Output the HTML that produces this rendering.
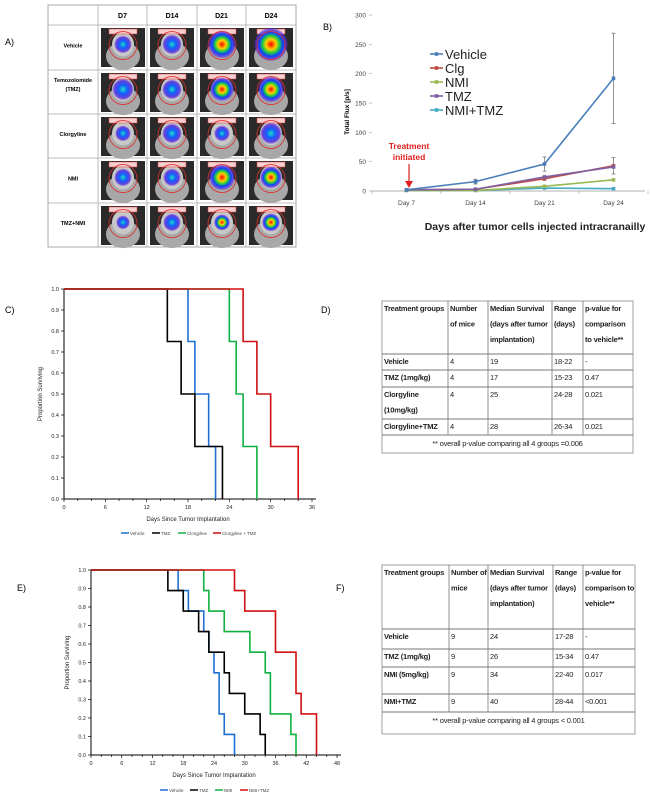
<!DOCTYPE html>
<html><head><meta charset="utf-8">
<style>
html,body{margin:0;padding:0;background:#fff;}
svg{display:block;font-family:"Liberation Sans",sans-serif;}
</style></head>
<body>
<svg id="fig" width="650" height="799" viewBox="0 0 650 799">
<defs>
<radialGradient id="blob" cx="50%" cy="50%" r="50%">
<stop offset="0" stop-color="#ff0000"/><stop offset="0.3" stop-color="#ffd000"/><stop offset="0.5" stop-color="#20d040"/><stop offset="0.7" stop-color="#1040ff"/><stop offset="0.9" stop-color="#6030e0" stop-opacity="0.7"/><stop offset="1" stop-color="#6030e0" stop-opacity="0"/>
</radialGradient>
<radialGradient id="blobB" cx="50%" cy="50%" r="50%">
<stop offset="0" stop-color="#20e0c0"/><stop offset="0.4" stop-color="#1060ff"/><stop offset="0.8" stop-color="#5020e0" stop-opacity="0.8"/><stop offset="1" stop-color="#6030e0" stop-opacity="0"/>
</radialGradient>
</defs>
</svg>
<script>
// ---- Panel B data
const bDays=["Day 7","Day 14","Day 21","Day 24"];
const bTicks=[0,50,100,150,200,250,300];
const bSeriesNames=["Vehicle","Clg","NMI","TMZ","NMI+TMZ"];
const bVehicle=[2,16,46,192];
const bClg=[2,3,21,43];
const bNMI=[1,1,8,19];
const bTMZ=[2,3,24,41];
const bNMITMZ=[1,1,5,4];
const bVehicleErr=[0,4,12,77];
const bClgErr=[0,1,3,14];
// ---- Panel C data
const cVehTimes=[18,19,21,22], cVehSurv=[0.75,0.5,0.25,0];
const cTmzTimes=[15,17,19,23], cTmzSurv=[0.75,0.5,0.25,0];
const cClgTimes=[24,25,26,28], cClgSurv=[0.75,0.5,0.25,0];
const cCtTimes=[26,28,30,34], cCtSurv=[0.75,0.5,0.25,0];
const cXTicks=[0,6,12,18,24,30,36];
const kmYTicks=[0,0.1,0.2,0.3,0.4,0.5,0.6,0.7,0.8,0.9,1.0];
// ---- Panel E data
const eVehTimes=[17,19,22,23,24,25,26,28], eVehSurv=[0.889,0.778,0.667,0.556,0.444,0.222,0.111,0];
const eTmzTimes=[15,18,21,23,26,27,30,33,34], eTmzSurv=[0.889,0.778,0.667,0.556,0.444,0.333,0.222,0.111,0];
const eNmiTimes=[22,23,26,31,34,35,39,40], eNmiSurv=[0.889,0.778,0.667,0.556,0.444,0.222,0.111,0];
const eNtTimes=[28,30,36,40,41,44], eNtSurv=[0.889,0.778,0.556,0.333,0.222,0];
const eXTicks=[0,6,12,18,24,30,36,42,48];

const NS="http://www.w3.org/2000/svg";
const svg=document.getElementById('fig');
function mk(tag,attrs,parent,text){const e=document.createElementNS(NS,tag);for(const k in attrs)e.setAttribute(k,attrs[k]);if(text!==undefined)e.textContent=text;(parent||svg).appendChild(e);return e;}

// ---------- Panel labels
let t;
t=mk('text',{x:5,y:45,'font-size':9},svg,'A)');
t=mk('text',{x:323,y:30,'font-size':9},svg,'B)');
t=mk('text',{x:5,y:313,'font-size':9},svg,'C)');
t=mk('text',{x:321,y:313,'font-size':9},svg,'D)');
t=mk('text',{x:17,y:591,'font-size':9},svg,'E)');
t=mk('text',{x:336,y:591,'font-size':9},svg,'F)');

// ---------- Panel A: imaging table
const gA=mk('g',{});
const colX=[48,98,147,197,246,296];
const rowY=[5,25,70,114,158,203,247];
const aHeads=["D7","D14","D21","D24"];
const aRows=["Vehicle","Temozolomide|(TMZ)","Clorgyline","NMI","TMZ+NMI"];
const blobSize=[[9,10,14,17],[11,10,12,13],[8,10,8,11],[9,9,13,11],[7,9,8,9]];
const blobHot=[[0,0,1,1],[0,0,1,1],[0,0,0,0],[0,0,1,1],[0,0,1,1]];
mk('rect',{x:48,y:5,width:248,height:242,fill:'#fff',stroke:'#999','stroke-width':0.8},gA);
colX.forEach(x=>mk('line',{x1:x,y1:5,x2:x,y2:247,stroke:'#aaa','stroke-width':0.8},gA));
rowY.forEach(y=>mk('line',{x1:48,y1:y,x2:296,y2:y,stroke:'#aaa','stroke-width':0.8},gA));
aHeads.forEach((h,i)=>{const e=mk('text',{x:(colX[i+1]+colX[i+2])/2,y:18,'font-size':7,'font-weight':'bold','text-anchor':'middle'},gA,h);});
aRows.forEach((r,j)=>{const parts=r.split('|');const cy=(rowY[j+1]+rowY[j+2])/2;
 parts.forEach((p,k)=>{const e=mk('text',{x:73,y:cy-8+(parts.length>1?k*9-2:8),'font-size':5.5,'font-weight':'bold','text-anchor':'middle'},gA,p);});
 for(let i=0;i<4;i++){const x0=colX[i+1]+3,y0=rowY[j+1]+3,w=44,h=39;
  const g=mk('g',{},gA);
  mk('rect',{x:x0,y:y0,width:w,height:h,fill:'#2a2a2a'},g);
  mk('ellipse',{cx:x0+w/2,cy:y0+h*0.72,rx:17,ry:14,fill:'#a8a8a8'},g);
  mk('ellipse',{cx:x0+w/2,cy:y0+h*0.42,rx:11,ry:12,fill:'#c8c8c8'},g);
  mk('rect',{x:x0+8,y:y0+1,width:28,height:5,fill:'#f4d0d0',stroke:'#e04040','stroke-width':0.5},g);
  const s=blobSize[j][i];
  mk('circle',{cx:x0+w/2,cy:y0+h*0.42,r:s,fill:blobHot[j][i]?'url(#blob)':'url(#blobB)'},g);
  mk('circle',{cx:x0+w/2,cy:y0+h*0.45,r:14,fill:'none',stroke:'#e03030','stroke-width':0.8},g);
 }});

// ---------- Panel B: line chart
const gB=mk('g',{});
const bx0=372,bx1=645,bBand=69,by0=191,byH=176;
const xB=i=>bx0+bBand*(i+0.5);
const yB=v=>by0-v*byH/300;
mk('line',{x1:bx0,y1:by0,x2:bx1,y2:by0,stroke:'#999','stroke-width':0.8},gB);
bTicks.forEach(v=>{mk('line',{x1:bx0-3,y1:yB(v),x2:bx0,y2:yB(v),stroke:'#999','stroke-width':0.6},gB);
 const e=mk('text',{x:bx0-6,y:yB(v)+2.5,'font-size':6.5,fill:'#444','text-anchor':'end'},gB,v);});
for(let i=0;i<=4;i++)mk('line',{x1:bx0+bBand*i,y1:by0,x2:bx0+bBand*i,y2:by0+3,stroke:'#999','stroke-width':0.6},gB);
bDays.forEach((d,i)=>{const e=mk('text',{x:xB(i),y:205,'font-size':6.5,fill:'#444','text-anchor':'middle'},gB,d);});
t=mk('text',{x:0,y:0,'font-size':6.5,'font-weight':'bold',transform:'translate(349,112) rotate(-90)','text-anchor':'middle'},gB,'Total Flux [p/s]');
t=mk('text',{x:535,y:230,'font-size':10.5,'font-weight':'bold','text-anchor':'middle',fill:'#222'},gB,'Days after tumor cells injected intracranailly');
const bCols=["#4a7ebb","#be4b48","#98b954","#7d60a0","#46aac5"];
const bSer=[bVehicle,bClg,bNMI,bTMZ,bNMITMZ];
const bErr=[bVehicleErr,bClgErr,null,null,null];
[4,2,1,3,0].forEach(k=>{
 const vals=bSer[k];
 if(bErr[k])vals.forEach((v,i)=>{const e=bErr[k][i];if(e>0){mk('line',{x1:xB(i),y1:yB(v-e),x2:xB(i),y2:yB(v+e),stroke:'#666','stroke-width':0.7},gB);mk('line',{x1:xB(i)-2,y1:yB(v+e),x2:xB(i)+2,y2:yB(v+e),stroke:'#666','stroke-width':0.7},gB);mk('line',{x1:xB(i)-2,y1:yB(v-e),x2:xB(i)+2,y2:yB(v-e),stroke:'#666','stroke-width':0.7},gB);}});
 const p=mk('polyline',{points:vals.map((v,i)=>xB(i)+','+yB(v)).join(' '),fill:'none',stroke:bCols[k],'stroke-width':1.6},gB);
 
 vals.forEach((v,i)=>{const m=mk('rect',{x:xB(i)-1.8,y:yB(v)-1.8,width:3.6,height:3.6,fill:bCols[k]},gB);});
});
bSeriesNames.forEach((n,k)=>{const y=54+k*14;
 const g=mk('g',{},gB);
 mk('line',{x1:430,y1:y,x2:443,y2:y,stroke:bCols[k],'stroke-width':1.6},g);
 mk('rect',{x:434.7,y:y-1.8,width:3.6,height:3.6,fill:bCols[k]},g);
 mk('text',{x:445,y:y+5,'font-size':13,fill:'#222'},g,n);});
const gT=mk('g',{},gB);
mk('text',{x:409,y:149,'font-size':8.5,'font-weight':'bold',fill:'#e02020','text-anchor':'middle'},gT,'Treatment');
mk('text',{x:409,y:160,'font-size':8.5,'font-weight':'bold',fill:'#e02020','text-anchor':'middle'},gT,'initiated');
mk('line',{x1:409,y1:164,x2:409,y2:184,stroke:'#e02020','stroke-width':1.2},gT);
mk('path',{d:'M405,181 L409,188 L413,181 Z',fill:'#e02020'},gT);

// ---------- KM plot helper
function kmPlot(name,x0,x1,xMax,y0,y1,xTicks,series,titleY,legendY,legend){
 const g=mk('g',{});
 const X=v=>x0+(x1-x0)*v/xMax, Y=v=>y0-(y0-y1)*v;
 mk('line',{x1:x0,y1:y0,x2:X(xMax)+4,y2:y0,stroke:'#000','stroke-width':1},g);
 mk('line',{x1:x0,y1:y0,x2:x0,y2:Y(1),stroke:'#000','stroke-width':1},g);
 kmYTicks.forEach(v=>{mk('line',{x1:x0-3,y1:Y(v),x2:x0,y2:Y(v),stroke:'#000','stroke-width':0.7},g);
  const e=mk('text',{x:x0-5,y:Y(v)+2,'font-size':5.5,'text-anchor':'end',fill:'#222'},g,v.toFixed(1));});
 for(let d=0;d<=xMax;d+=2)mk('line',{x1:X(d),y1:y0,x2:X(d),y2:y0+(d%6===0?3:2),stroke:'#000','stroke-width':0.7},g);
 xTicks.forEach(v=>{const e=mk('text',{x:X(v),y:y0+10,'font-size':5.5,'text-anchor':'middle',fill:'#222'},g,v);});
 let e=mk('text',{x:0,y:0,'font-size':6,'text-anchor':'middle',fill:'#222',transform:'translate('+(x0-22)+','+((y0+Y(1))/2)+') rotate(-90)'},g,'Proportion Surviving');
 e=mk('text',{x:(x0+X(xMax))/2,y:titleY,'font-size':6,'text-anchor':'middle',fill:'#222'},g,'Days Since Tumor  Implantation');
 series.forEach(s=>{let d='M'+X(0)+','+Y(1);let cur=1;
  s.t.forEach((tt,i)=>{d+=' L'+X(tt)+','+Y(cur)+' L'+X(tt)+','+Y(s.s[i]);cur=s.s[i];});
  const p=mk('path',{d:d,fill:'none',stroke:s.c,'stroke-width':1.6},g);});
 legend.forEach(l=>{const lg=mk('g',{},g);
  mk('line',{x1:l.x,y1:legendY,x2:l.x+8,y2:legendY,stroke:l.c,'stroke-width':1.5},lg);
  mk('text',{x:l.x+9,y:legendY+1.8,'font-size':4.5,fill:'#444'},lg,l.n);});
}
kmPlot('survival-chart-c',64,312,36,499,289,cXTicks,[
 {n:'vehicle',t:cVehTimes,s:cVehSurv,c:'#1f6fd0'},{n:'tmz',t:cTmzTimes,s:cTmzSurv,c:'#000'},
 {n:'clorgyline',t:cClgTimes,s:cClgSurv,c:'#10b040'},{n:'clorgyline-tmz',t:cCtTimes,s:cCtSurv,c:'#d01010'}],
 521,533,[{x:121,n:'Vehicle',c:'#1f6fd0'},{x:152,n:'TMZ',c:'#000'},{x:178,n:'Clorgyline',c:'#10b040'},{x:213,n:'Clorgyline + TMZ',c:'#d01010'}]);
kmPlot('survival-chart-e',91,337,48,755,570,eXTicks,[
 {n:'vehicle',t:eVehTimes,s:eVehSurv,c:'#1f6fd0'},{n:'tmz',t:eTmzTimes,s:eTmzSurv,c:'#000'},
 {n:'nmi',t:eNmiTimes,s:eNmiSurv,c:'#10b040'},{n:'nmi-tmz',t:eNtTimes,s:eNtSurv,c:'#d01010'}],
 777,790,[{x:160,n:'Vehicle',c:'#1f6fd0'},{x:190,n:'TMZ',c:'#000'},{x:215,n:'NMI',c:'#10b040'},{x:240,n:'NMI+TMZ',c:'#d01010'}]);

// ---------- Tables
function table(name,left,right,cols,rows,cells,footer){
 const g=mk('g',{});
 const top=rows[0],bot=rows[rows.length-1];
 mk('rect',{x:left,y:top,width:right-left,height:bot-top,fill:'#fff',stroke:'#888','stroke-width':0.8},g);
 const xs=[left].concat(cols).concat([right]);
 rows.forEach((y,i)=>{if(i>0&&i<rows.length-1)mk('line',{x1:left,y1:y,x2:right,y2:y,stroke:'#777','stroke-width':1},g);});
 cols.forEach(x=>mk('line',{x1:x,y1:top,x2:x,y2:rows[rows.length-2],stroke:'#777','stroke-width':0.8},g));
 cells.forEach((row,r)=>row.forEach((c,ci)=>{c.split('|').forEach((ln,k)=>{
  const e=mk('text',{x:xs[ci]+2,y:rows[r]+10+k*15.5,'font-size':7.5,'font-weight':(r===0||ci===0)?'bold':'normal',fill:'#222','letter-spacing':'-0.2'},g,ln);
  });}));
 const e=mk('text',{x:(left+right)/2,y:rows[rows.length-2]+11,'font-size':7.5,'text-anchor':'middle',fill:'#222','letter-spacing':'-0.2'},g,footer);
 
}
table('survival-table-d',382,633,[448,488,552,583],[301,354,370,387,419,435,453],[
 ['Treatment groups','Number|of mice','Median Survival|(days after tumor|implantation)','Range|(days)','p-value for|comparison|to vehicle**'],
 ['Vehicle','4','19','18-22','-'],['TMZ (1mg/kg)','4','17','15-23','0.47'],
 ['Clorgyline|(10mg/kg)','4','25','24-28','0.021'],['Clorgyline+TMZ','4','28','26-34','0.021']],
 '** overall p-value comparing all 4 groups =0.006');
table('survival-table-f',382,635,[449,488,553,583],[565,629,649,667,694,712,734],[
 ['Treatment groups','Number of|mice','Median Survival|(days after tumor|implantation)','Range|(days)','p-value for|comparison to|vehicle**'],
 ['Vehicle','9','24','17-28','-'],['TMZ (1mg/kg)','9','26','15-34','0.47'],
 ['NMI (5mg/kg)','9','34','22-40','0.017'],['NMI+TMZ','9','40','28-44','<0.001']],
 '** overall p-value comparing all 4 groups < 0.001');
</script>
</body></html>
